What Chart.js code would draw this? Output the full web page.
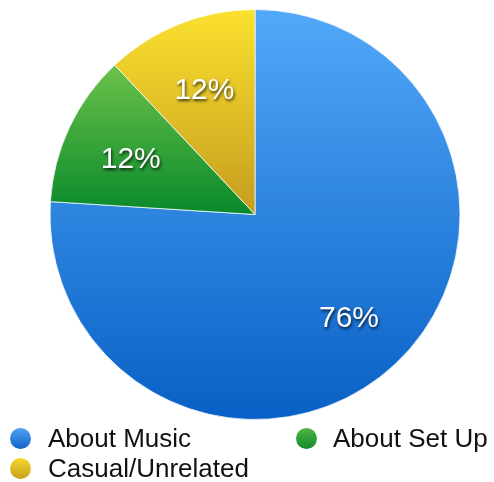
<!DOCTYPE html>
<html>
<head>
<meta charset="utf-8">
<script src="https://cdn.jsdelivr.net/npm/chart.js@4/dist/chart.umd.min.js"></script>
<style>
  html, body { margin: 0; padding: 0; background: #ffffff; }
  body { width: 494px; height: 482px; position: relative; overflow: hidden; font-family: "Liberation Sans", Arial, sans-serif; }
  #wrap { position: absolute; left: 0; top: 0; width: 494px; height: 430px; }
  .leg { position: absolute; font-size: 26px; color: #111; line-height: 30px; white-space: nowrap; }
  .dot { position: absolute; width: 21px; height: 21px; border-radius: 50%; }
</style>
</head>
<body>
<div id="wrap"><canvas id="c" width="494" height="430"></canvas></div>
<div id="legend"></div>
<script>
const categories = ["About Music", "About Set Up", "Casual/Unrelated"];
const values = [76, 12, 12];
const topColors = ["#52a8f8", "#6cc24a", "#fbe12e"];
const bottomColors = ["#0860c6", "#08892a", "#c59d1f"];
const legendTop = ["#4fa2f2", "#4fb544", "#f6d82c"];
const legendBottom = ["#1262c8", "#118a2c", "#c9a01e"];

function sliceGradient(context) {
  const chart = context.chart;
  const area = chart.chartArea;
  const i = context.dataIndex;
  if (!area || i === undefined) return topColors[i || 0];
  const cx = (area.left + area.right) / 2;
  const cy = (area.top + area.bottom) / 2;
  const r = Math.min(area.width, area.height) / 2;
  const total = values.reduce((a, b) => a + b, 0);
  let before = 0;
  for (let k = 0; k < i; k++) before += values[k];
  const a0 = -Math.PI / 2 + before / total * 2 * Math.PI;
  const a1 = a0 + values[i] / total * 2 * Math.PI;
  const ys = [cy, cy + r * Math.sin(a0), cy + r * Math.sin(a1)];
  const crosses = (a) => { for (let t = a - 4 * Math.PI; t <= a + 4 * Math.PI; t += 2 * Math.PI) { if (t >= a0 && t <= a1) return true; } return false; };
  if (crosses(-Math.PI / 2)) ys.push(cy - r);
  if (crosses(Math.PI / 2)) ys.push(cy + r);
  const y0 = Math.min(...ys), y1 = Math.max(...ys);
  const g = chart.ctx.createLinearGradient(0, y0, 0, y1);
  g.addColorStop(0, topColors[i]);
  g.addColorStop(1, bottomColors[i]);
  return g;
}

const labelPlugin = {
  id: 'pctLabels',
  afterDatasetsDraw(chart) {
    const ctx = chart.ctx;
    const meta = chart.getDatasetMeta(0);
    ctx.save();
    ctx.font = '30px "Liberation Sans", Arial, sans-serif';
    ctx.textAlign = 'center';
    ctx.textBaseline = 'middle';
    ctx.fillStyle = '#ffffff';
    ctx.shadowColor = 'rgba(0,0,0,0.75)';
    ctx.shadowBlur = 3;
    ctx.shadowOffsetX = 1;
    ctx.shadowOffsetY = 2;
    meta.data.forEach((arc, i) => {
      const p = arc.getProps(['x', 'y', 'startAngle', 'endAngle', 'outerRadius'], true);
      const mid = (p.startAngle + p.endAngle) / 2;
      const rr = p.outerRadius * 0.67;
      ctx.fillText(values[i] + '%', p.x + rr * Math.cos(mid), p.y + rr * Math.sin(mid) + 4);
    });
    ctx.restore();
  }
};

new Chart(document.getElementById('c'), {
  type: 'pie',
  data: {
    labels: categories,
    datasets: [{
      data: values,
      backgroundColor: sliceGradient,
      borderColor: 'rgba(255,255,255,0.75)',
      borderWidth: 1
    }]
  },
  options: {
    responsive: false,
    animation: false,
    layout: { padding: { left: 16, right: 0, top: 9, bottom: 10 } },
    plugins: { legend: { display: false }, tooltip: { enabled: false } }
  },
  plugins: [labelPlugin]
});

// legend
const legendPos = [
  { dx: 10, dy: 428, tx: 48, ty: 423 },
  { dx: 296, dy: 428, tx: 333, ty: 423 },
  { dx: 10, dy: 458, tx: 48, ty: 453 }
];
const lg = document.getElementById('legend');
categories.forEach((name, i) => {
  const d = document.createElement('div');
  d.className = 'dot';
  d.style.left = legendPos[i].dx + 'px';
  d.style.top = legendPos[i].dy + 'px';
  d.style.background = 'linear-gradient(' + legendTop[i] + ',' + legendBottom[i] + ')';
  lg.appendChild(d);
  const t = document.createElement('div');
  t.className = 'leg';
  t.style.left = legendPos[i].tx + 'px';
  t.style.top = legendPos[i].ty + 'px';
  t.textContent = name;
  lg.appendChild(t);
});
</script>
</body>
</html>
